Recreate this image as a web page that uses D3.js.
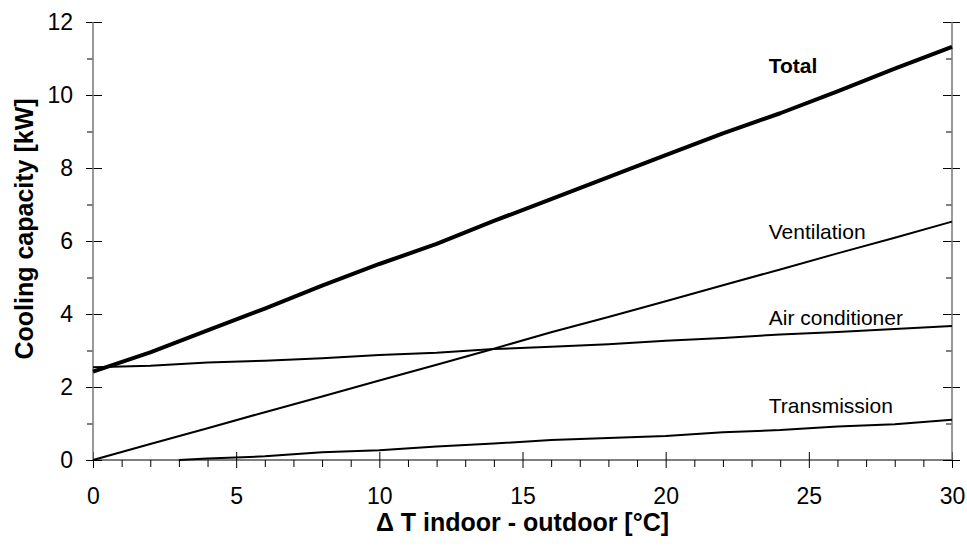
<!DOCTYPE html>
<html>
<head>
<meta charset="utf-8">
<script src="https://cdn.jsdelivr.net/npm/d3@7"></script>
<style>
  body { margin: 0; background: #fff; }
  text { font-family: 'Liberation Sans', Arial, sans-serif; }
</style>
</head>
<body>
<div id="chart-area"></div>
<script>
// temperature difference (x) for the series
const deltaT = [0, 2, 4, 6, 8, 10, 12, 14, 16, 18, 20, 22, 24, 26, 28, 30];
const total = [2.42, 2.95, 3.55, 4.15, 4.78, 5.37, 5.92, 6.55, 7.15, 7.75, 8.35, 8.95, 9.5, 10.1, 10.72, 11.32];
const ventilation = [0, 0.44, 0.87, 1.31, 1.74, 2.18, 2.61, 3.05, 3.5, 3.92, 4.35, 4.79, 5.22, 5.66, 6.09, 6.53];
const airConditioner = [2.54, 2.58, 2.67, 2.72, 2.79, 2.88, 2.94, 3.04, 3.1, 3.17, 3.27, 3.34, 3.44, 3.51, 3.59, 3.67];
// transmission starts at dT = 3
const transDeltaT = [3, 4, 6, 8, 10, 12, 14, 16, 18, 20, 22, 24, 26, 28, 30];
const transmission = [0, 0.04, 0.1, 0.21, 0.27, 0.37, 0.45, 0.55, 0.6, 0.66, 0.76, 0.82, 0.92, 0.98, 1.1];

const xTicks = [0, 5, 10, 15, 20, 25, 30];
const yTicks = [0, 2, 4, 6, 8, 10, 12];

const labels = [
    {name: 'Total', x: 23.6, y: 10.6, bold: true},
    {name: 'Ventilation', x: 23.6, y: 6.05, bold: false},
    {name: 'Air conditioner', x: 23.6, y: 3.7, bold: false},
    {name: 'Transmission', x: 23.6, y: 1.29, bold: false}
];

const margin = {left: 93, right: 15, top: 22, bottom: 89};
const width = 967 - margin.left - margin.right;
const height = 549 - margin.top - margin.bottom;

const svg = d3.select('#chart-area')
    .append('svg')
    .attr('width', 967)
    .attr('height', 549);

const g = svg.append('g')
    .attr('transform', `translate(${margin.left}, ${margin.top})`);

const x = d3.scaleLinear().domain([0, 30]).range([0, width]);
const y = d3.scaleLinear().domain([0, 12]).range([height, 0]);

const minorX = d3.range(0, 31, 1).filter(d => d % 5 !== 0);
const minorY = d3.range(0, 13, 1).filter(d => d % 2 !== 0);

// x axis: labels + downward part of major ticks
g.append('g')
    .attr('class', 'x axis')
    .attr('transform', `translate(0, ${height})`)
    .call(d3.axisBottom(x).tickValues(xTicks).tickSize(8).tickPadding(20))
    .call(a => a.select('.domain').remove())
    .selectAll('text')
        .attr('font-size', '23px')
        .attr('fill', '#000');

g.append('g')
    .attr('transform', `translate(0, ${height})`)
    .call(d3.axisTop(x).tickValues(xTicks).tickSize(8).tickFormat(''))
    .call(a => a.select('.domain').remove());

g.append('g')
    .attr('transform', `translate(0, ${height})`)
    .call(d3.axisBottom(x).tickValues(minorX).tickSize(7).tickFormat(''))
    .call(a => a.select('.domain').remove());

// left y axis
g.append('g')
    .attr('class', 'y axis')
    .call(d3.axisLeft(y).tickValues(yTicks).tickSize(7).tickPadding(13))
    .call(a => a.select('.domain').remove())
    .selectAll('text')
        .attr('font-size', '23px')
        .attr('fill', '#000');

g.append('g')
    .call(d3.axisRight(y).tickValues(yTicks).tickSize(9).tickFormat(''))
    .call(a => a.select('.domain').remove());

g.append('g')
    .call(d3.axisLeft(y).tickValues(minorY).tickSize(6).tickFormat(''))
    .call(a => a.select('.domain').remove());

// right y axis
const right = g.append('g').attr('transform', `translate(${width}, 0)`);
right.append('g')
    .call(d3.axisLeft(y).tickValues(yTicks).tickSize(9).tickFormat(''))
    .call(a => a.select('.domain').remove());
right.append('g')
    .call(d3.axisRight(y).tickValues(yTicks).tickSize(8).tickFormat(''))
    .call(a => a.select('.domain').remove());
right.append('g')
    .call(d3.axisLeft(y).tickValues(minorY).tickSize(6).tickFormat(''))
    .call(a => a.select('.domain').remove());

g.selectAll('.tick line').attr('stroke', '#000');

// axis lines
g.append('line')
    .attr('x1', 0).attr('x2', width)
    .attr('y1', height).attr('y2', height)
    .attr('stroke', '#000').attr('stroke-width', 1.2);
g.append('line')
    .attr('x1', 0).attr('x2', 0)
    .attr('y1', y(12)).attr('y2', height)
    .attr('stroke', '#777').attr('stroke-width', 1.5);
g.append('line')
    .attr('x1', width).attr('x2', width)
    .attr('y1', y(12)).attr('y2', height)
    .attr('stroke', '#777').attr('stroke-width', 1.5);

// series
const line = d3.line().x(d => x(d[0])).y(d => y(d[1]));

const series = [
    {values: d3.zip(deltaT, ventilation), w: 2},
    {values: d3.zip(deltaT, airConditioner), w: 2},
    {values: d3.zip(transDeltaT, transmission), w: 2},
    {values: d3.zip(deltaT, total), w: 4}
];

g.selectAll('path.series')
    .data(series)
    .enter()
    .append('path')
        .attr('class', 'series')
        .attr('d', d => line(d.values))
        .attr('fill', 'none')
        .attr('stroke', '#000')
        .attr('stroke-width', d => d.w)
        .attr('stroke-linejoin', 'round');

g.selectAll('text.label')
    .data(labels)
    .enter()
    .append('text')
        .attr('class', 'label')
        .attr('x', d => x(d.x))
        .attr('y', d => y(d.y))
        .attr('font-size', '21px')
        .attr('font-weight', d => d.bold ? 'bold' : 'normal')
        .text(d => d.name);

// axis titles
g.append('text')
    .attr('x', width / 2)
    .attr('y', height + 71)
    .attr('font-size', '25px')
    .attr('font-weight', 'bold')
    .attr('text-anchor', 'middle')
    .text('\u0394 T indoor - outdoor [°C]');

g.append('text')
    .attr('x', -207)
    .attr('y', -60)
    .attr('font-size', '25px')
    .attr('font-weight', 'bold')
    .attr('text-anchor', 'middle')
    .attr('transform', 'rotate(-90)')
    .text('Cooling capacity [kW]');
</script>
</body>
</html>
